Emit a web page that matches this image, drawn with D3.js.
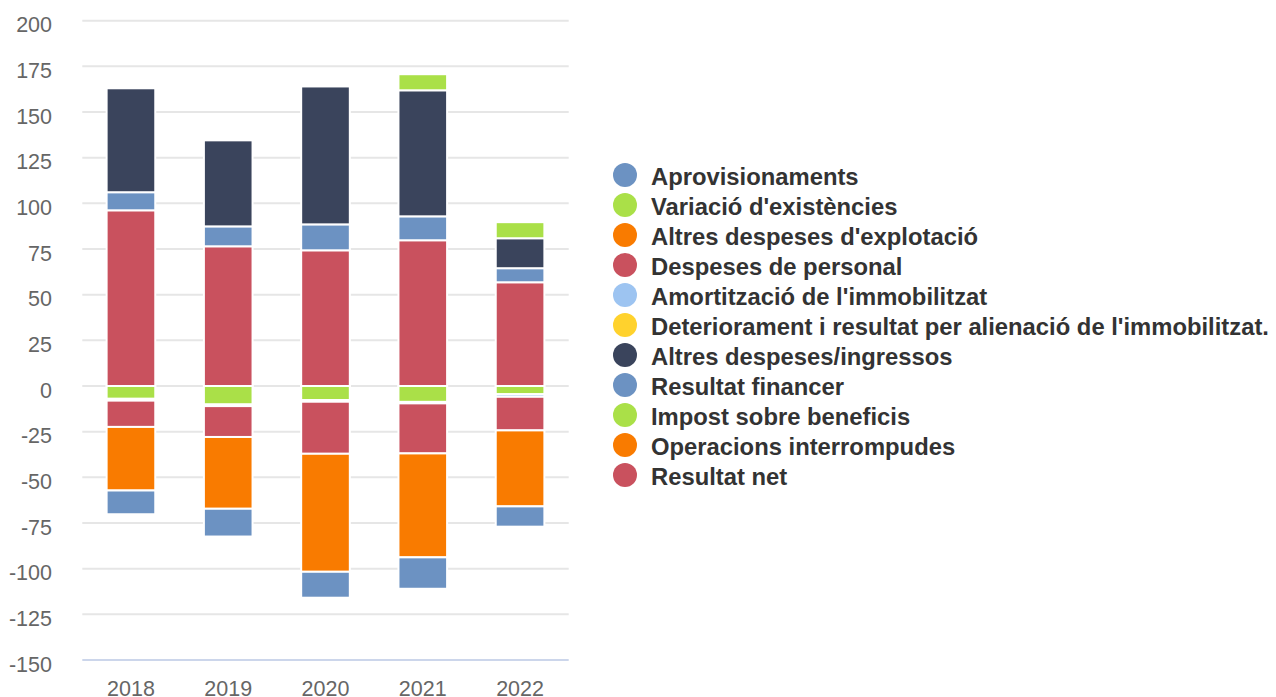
<!DOCTYPE html>
<html>
<head>
<meta charset="utf-8">
<script src="https://cdn.jsdelivr.net/npm/d3@7"></script>
<style>
  html, body { margin: 0; padding: 0; background: #fff; }
  svg { display: block; font-family: "Liberation Sans", Arial, Helvetica, sans-serif; }
</style>
</head>
<body>
<svg id="chart" width="1276" height="697"></svg>
<script>
// ---- data ----
const years = ["2018", "2019", "2020", "2021", "2022"];
const seriesNames = [
  "Aprovisionaments",
  "Variació d'existències",
  "Altres despeses d'explotació",
  "Despeses de personal",
  "Amortització de l'immobilitzat",
  "Deteriorament i resultat per alienació de l'immobilitzat.",
  "Altres despeses/ingressos",
  "Resultat financer",
  "Impost sobre beneficis",
  "Operacions interrompudes",
  "Resultat net"
];
const seriesColors = ["#6c92c2", "#aae048", "#f97b00", "#c9515e", "#9dc4f1", "#ffd22d", "#3a445c", "#6c92c2", "#aae048", "#f97b00", "#c9515e"];
const aprovisionaments      = [-13.0, -15.2, -14.2, -17.2, -11.1];
const variacioExistencies   = [0, 0, 0, 8.8, 8.8];
const altresDespesesExpl    = [-34.8, -39.3, -64.6, -56.9, -41.6];
const despesesPersonal      = [-14.4, -16.9, -28.5, -27.4, -18.4];
const amortitzacio          = [-1.0, -0.9, -0.9, -0.8, -1.4];
const deteriorament         = [0, 0, 0, 0, 0];
const altresDespesesIngr    = [56.9, 47.1, 75.5, 69.0, 16.4];
const resultatFinancer      = [9.9, 10.9, 14.2, 13.1, 7.7];
const impostBeneficis       = [-7.0, -10.1, -7.7, -8.7, -4.5];
const operacionsInterromp   = [0, 0, 0, 0, 0];
const resultatNet           = [96.2, 76.5, 74.3, 79.8, 56.8];
const seriesValues = [aprovisionaments, variacioExistencies, altresDespesesExpl, despesesPersonal,
  amortitzacio, deteriorament, altresDespesesIngr, resultatFinancer, impostBeneficis,
  operacionsInterromp, resultatNet];
const yTicks = [-150, -125, -100, -75, -50, -25, 0, 25, 50, 75, 100, 125, 150, 175, 200];

// ---- layout ----
const svg = d3.select("#chart");
const plotLeft = 82.3, plotRight = 568.7, plotTop = 20.7, plotBottom = 660;

const x = d3.scaleBand().domain(years).range([plotLeft, plotRight])
  .paddingInner(0.5).paddingOuter(0.25);
const y = d3.scaleLinear().domain([-150, 200]).range([plotBottom, plotTop]);

// gridlines
svg.append("g").selectAll("line").data(yTicks.filter(t => t !== -150)).join("line")
  .attr("x1", plotLeft).attr("x2", plotRight)
  .attr("y1", d => y(d)).attr("y2", d => y(d))
  .attr("stroke", "#e6e6e6").attr("stroke-width", 2);

// axis line
svg.append("line").attr("x1", plotLeft).attr("x2", plotRight)
  .attr("y1", y(-150)).attr("y2", y(-150))
  .attr("stroke", "#ccd6eb").attr("stroke-width", 2);

// y labels
svg.append("g").selectAll("text").data(yTicks).join("text")
  .attr("x", 52).attr("y", d => y(d) + 11.5)
  .attr("text-anchor", "end").attr("fill", "#666666")
  .attr("font-size", "21.5px").text(d => d);

// x labels
svg.append("g").selectAll("text").data(years).join("text")
  .attr("x", d => x(d) + x.bandwidth() / 2).attr("y", 695.5)
  .attr("text-anchor", "middle").attr("fill", "#666666")
  .attr("font-size", "21.5px").text(d => d);

// stacking (Highcharts-like reversed stacks)
const segments = [];
years.forEach((yr, j) => {
  let pos = 0, neg = 0;
  for (let i = seriesValues.length - 1; i >= 0; i--) {
    const v = seriesValues[i][j];
    if (v > 0) { segments.push({ yr, i, y0: pos, y1: pos + v }); pos += v; }
    else if (v < 0) { segments.push({ yr, i, y0: neg + v, y1: neg }); neg += v; }
  }
});

svg.append("g").selectAll("rect").data(segments).join("rect")
  .attr("x", d => x(d.yr))
  .attr("width", x.bandwidth())
  .attr("y", d => y(d.y1))
  .attr("height", d => y(d.y0) - y(d.y1))
  .attr("fill", d => seriesColors[d.i])
  .attr("stroke", "#ffffff").attr("stroke-width", 2);

// legend
const legend = svg.append("g");
const items = legend.selectAll("g").data(seriesNames).join("g")
  .attr("transform", (d, i) => `translate(625, ${175 + i * 30})`);
items.append("circle").attr("r", 12).attr("fill", (d, i) => seriesColors[i]);
items.append("text").attr("x", 26).attr("y", 9.5)
  .attr("font-size", "23.8px").attr("font-weight", "bold").attr("fill", "#333333")
  .text(d => d);
</script>
</body>
</html>
